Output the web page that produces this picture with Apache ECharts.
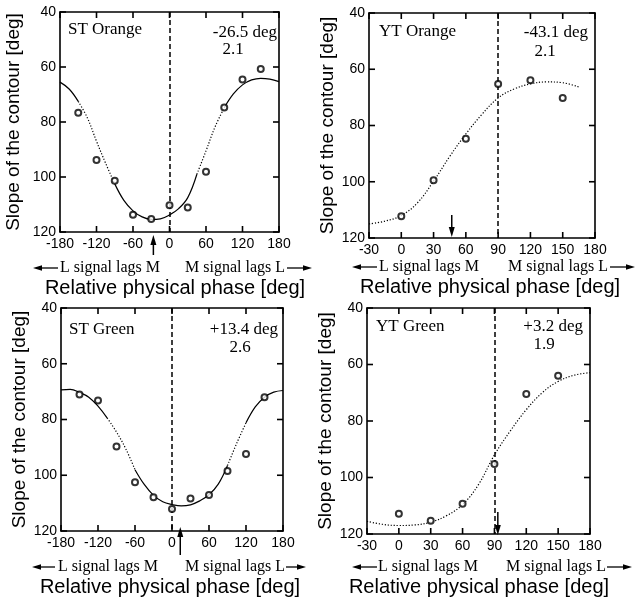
<!DOCTYPE html>
<html>
<head>
<meta charset="utf-8">
<script src="https://cdn.jsdelivr.net/npm/echarts@6/dist/echarts.min.js"></script>
<style>
html,body{margin:0;padding:0;background:#fff;}
#chart{width:639px;height:599px;}
</style>
</head>
<body>
<div id="chart"></div>
<script>
// ---------------- DATA ----------------
const stPhase = [-150, -120, -90, -60, -30, 0, 30, 60, 90, 120, 150];
const stOrangeSlope = [76.6, 93.8, 101.4, 113.7, 115.3, 110.3, 111.1, 98.1, 74.7, 64.5, 60.7];
const stGreenSlope = [71.0, 73.2, 89.7, 102.5, 107.9, 112.1, 108.3, 107.1, 98.5, 92.4, 72.0];

const ytPhase = [0, 30, 60, 90, 120, 150];
const ytOrangeSlope = [112.3, 99.5, 84.7, 65.2, 63.9, 70.2];
const ytGreenSlope = [112.8, 115.3, 109.3, 95.2, 70.4, 64.0];

const stFitPhase = [-180, -165, -150, -135, -120, -105, -90, -75, -60, -45, -30, -15, 0, 15, 30, 45, 60, 75, 90, 105, 120, 135, 150, 165, 180];
const stOrangeFit = [65.5, 68, 72.5, 78.5, 87, 95, 102.5, 108.5, 112.3, 114.5, 115.4, 115.2, 113.8, 111.5, 107.5, 99, 90.5, 81.7, 74.8, 69.8, 66.5, 64.7, 64.1, 64.4, 65.3];
const stGreenFit = [69.4, 69.2, 70.3, 72, 75.2, 79.5, 84.5, 90.5, 98, 103.3, 107.2, 109.5, 110.5, 111, 110.6, 109.2, 107, 103.2, 96.5, 88.5, 81.2, 75.5, 72, 70.2, 69.6];

const ytOrangeFitPhase = [-30, -15, 0, 15, 30, 45, 60, 75, 90, 105, 120, 135, 150, 165];
const ytOrangeFit = [115, 114, 112, 107.5, 99.8, 91, 83, 76, 70.2, 67, 65.2, 64.5, 64.8, 66.3];
const ytGreenFitPhase = [-30, -15, 0, 15, 30, 45, 60, 75, 90, 105, 120, 135, 150, 165, 180];
const ytGreenFit = [115.5, 116.6, 117, 116.8, 115.8, 113.5, 109.6, 102.5, 92, 83.5, 76, 70, 66, 63.8, 62.9];

const stTicks = [-180, -120, -60, 0, 60, 120, 180];
const ytTicks = [-30, 0, 30, 60, 90, 120, 150, 180];
const slopeTicks = [40, 60, 80, 100, 120];

const panelNames = ['ST Orange', 'YT Orange', 'ST Green', 'YT Green'];
const phaseLabels = ['-26.5 deg', '-43.1 deg', '+13.4 deg', '+3.2 deg'];
const paramLabels = ['2.1', '2.1', '2.6', '1.9'];
const arrowPhase = [-26.5, 46.9, 13.4, 93.2];
const dashedPhase = [0, 90, 0, 90];
const xRanges = [[-180, 180, 60], [-30, 180, 30], [-180, 180, 60], [-30, 180, 30]];
const yTitle = 'Slope of the contour [deg]';
const xTitle = 'Relative physical phase [deg]';
const lagLeft = 'L signal lags M';
const lagRight = 'M signal lags L';

// ---------------- LAYOUT / STYLE ----------------
const panels = [
  {grid: {left: 60, top: 12, width: 219, height: 220}, pts: [stPhase, stOrangeSlope], fit: [stFitPhase, stOrangeFit], ticks: stTicks,
   dotted: [[-150, -90], [45, 90]], nameGap: 37,
   lbl: {nx: 68, ny: 30, px: 277, py: 33, qx: 233, qy: 50},
   row: {y: 268, la: [33, 58], lt: 60, rt: 285, ra: [287, 312], tx: 175, ty: 288},
   arrow: {tip: 3, tail: 23}},
  {grid: {left: 369, top: 13, width: 226, height: 225}, pts: [ytPhase, ytOrangeSlope], fit: [ytOrangeFitPhase, ytOrangeFit], ticks: ytTicks,
   dotted: 'all', nameGap: 29,
   lbl: {nx: 379, ny: 32, px: 588, py: 33, qx: 545, qy: 52},
   row: {y: 267, la: [352, 377], lt: 379, rt: 608, ra: [610, 635], tx: 490, ty: 287},
   arrow: {tip: -1, tail: -23}},
  {grid: {left: 61, top: 308, width: 222, height: 223}, pts: [stPhase, stGreenSlope], fit: [stFitPhase, stGreenFit], ticks: stTicks,
   dotted: [[-105, -60], [90, 120]], nameGap: 28,
   lbl: {nx: 69, ny: 330, px: 278, py: 330, qx: 240, qy: 348},
   row: {y: 567, la: [32, 55], lt: 58, rt: 285, ra: [286, 306], tx: 170, ty: 587},
   arrow: {tip: -4, tail: 24}},
  {grid: {left: 367, top: 308, width: 223, height: 226}, pts: [ytPhase, ytGreenSlope], fit: [ytGreenFitPhase, ytGreenFit], ticks: ytTicks,
   dotted: 'all', nameGap: 29,
   lbl: {nx: 376, ny: 327, px: 583, py: 327, qx: 544, qy: 345},
   row: {y: 567, la: [352, 377], lt: 378, rt: 606, ra: [607, 632], tx: 479, ty: 587},
   arrow: {tip: 1, tail: -22}}
];

const SANS = 'Liberation Sans';
const SERIF = 'Liberation Serif';
const TICK_LEN = 6;
const grids = [], xAxes = [], yAxes = [], series = [], graphics = [];

function zip(xs, ys) { return xs.map((x, i) => [x, ys[i]]); }
function mkLine() { return {show: true, onZero: false, lineStyle: {color: '#000', width: 1.6}}; }

panels.forEach((p, i) => {
  grids.push(Object.assign({}, p.grid));
  const [xmin, xmax, xint] = xRanges[i];
  xAxes.push({gridIndex: i, type: 'value', position: 'bottom', min: xmin, max: xmax, interval: xint,
    axisLine: mkLine(), splitLine: {show: false}, axisTick: {show: false},
    axisLabel: {color: '#000', fontFamily: SANS, fontSize: 14, margin: 5}});
  xAxes.push({gridIndex: i, type: 'value', position: 'top', min: xmin, max: xmax, interval: xint,
    axisLine: mkLine(), splitLine: {show: false}, axisTick: {show: false}, axisLabel: {show: false}});
  yAxes.push({gridIndex: i, type: 'value', position: 'left', inverse: true, min: 40, max: 120, interval: 20,
    axisLine: mkLine(), splitLine: {show: false}, axisTick: {show: false},
    axisLabel: {color: '#000', fontFamily: SANS, fontSize: 14, margin: 4},
    name: yTitle, nameLocation: 'middle', nameGap: p.nameGap,
    nameTextStyle: {color: '#000', fontFamily: SANS, fontSize: 19}});
  yAxes.push({gridIndex: i, type: 'value', position: 'right', inverse: true, min: 40, max: 120, interval: 20,
    axisLine: mkLine(), splitLine: {show: false}, axisTick: {show: false}, axisLabel: {show: false}});

  const xi = 2 * i, yi = 2 * i;

  // inward tick marks on all four sides, positioned through the axis scales
  series.push({type: 'custom', xAxisIndex: xi, yAxisIndex: yi, clip: false, silent: true, z: 7,
    data: p.ticks.map(v => [v, 120]),
    renderItem: function (params, api) {
      const pt = api.coord([api.value(0), api.value(1)]);
      const top = api.coord([api.value(0), 40]);
      const st = {stroke: '#000', lineWidth: 1.6};
      return {type: 'group', children: [
        {type: 'line', shape: {x1: pt[0], y1: pt[1], x2: pt[0], y2: pt[1] - TICK_LEN}, style: st},
        {type: 'line', shape: {x1: top[0], y1: top[1], x2: top[0], y2: top[1] + TICK_LEN}, style: st}
      ]};
    }});
  series.push({type: 'custom', xAxisIndex: xi, yAxisIndex: yi, clip: false, silent: true, z: 7,
    data: slopeTicks.map(v => [xmin, v]),
    renderItem: function (params, api) {
      const pt = api.coord([api.value(0), api.value(1)]);
      const right = api.coord([xmax, api.value(1)]);
      const st = {stroke: '#000', lineWidth: 1.6};
      return {type: 'group', children: [
        {type: 'line', shape: {x1: pt[0], y1: pt[1], x2: pt[0] + TICK_LEN, y2: pt[1]}, style: st},
        {type: 'line', shape: {x1: right[0], y1: right[1], x2: right[0] - TICK_LEN, y2: right[1]}, style: st}
      ]};
    }});

  const fit = zip(p.fit[0], p.fit[1]);
  // fitted curve: split into solid and dotted segments
  const segs = [];
  if (p.dotted === 'all') {
    segs.push({data: fit, dotted: true});
  } else {
    let start = p.fit[0][0];
    const bounds = [];
    p.dotted.forEach(d => {
      bounds.push({a: start, b: d[0], dotted: false});
      bounds.push({a: d[0], b: d[1], dotted: true});
      start = d[1];
    });
    bounds.push({a: start, b: p.fit[0][p.fit[0].length - 1], dotted: false});
    bounds.forEach(b => segs.push({data: fit.filter(v => v[0] >= b.a && v[0] <= b.b), dotted: b.dotted}));
  }
  segs.forEach(s => {
    series.push({type: 'line', xAxisIndex: xi, yAxisIndex: yi, data: s.data, smooth: 0.4, showSymbol: false,
      silent: true, z: 3,
      lineStyle: {color: '#000', width: 1.2, type: s.dotted ? [1.2, 1.8] : 'solid'}});
  });
  // data points + dashed reference line
  series.push({type: 'scatter', xAxisIndex: xi, yAxisIndex: yi, data: zip(p.pts[0], p.pts[1]),
    symbol: 'emptyCircle', symbolSize: 6, z: 5, silent: true,
    itemStyle: {color: '#000', borderColor: '#000', borderWidth: 1.2},
    markLine: {silent: true, symbol: 'none', label: {show: false},
      lineStyle: {color: '#000', width: 1.5, type: [5, 3]},
      data: [{xAxis: dashedPhase[i]}]}});
  // phase arrow
  const ar = p.arrow;
  series.push({type: 'custom', xAxisIndex: xi, yAxisIndex: yi, clip: false, silent: true, z: 6,
    data: [[arrowPhase[i], 120]],
    renderItem: function (params, api) {
      const pt = api.coord([api.value(0), api.value(1)]);
      const tipY = pt[1] + ar.tip, tailY = pt[1] + ar.tail;
      const dir = tailY > tipY ? 1 : -1;
      return {type: 'group', children: [
        {type: 'line', shape: {x1: pt[0], y1: tailY, x2: pt[0], y2: tipY + dir * 7}, style: {stroke: '#000', lineWidth: 1.5}},
        {type: 'polygon', shape: {points: [[pt[0], tipY], [pt[0] - 3, tipY + dir * 10], [pt[0] + 3, tipY + dir * 10]]}, style: {fill: '#000'}}
      ]};
    }});

  // annotations
  const L = p.lbl;
  graphics.push({type: 'text', x: L.nx, y: L.ny, style: {text: panelNames[i], font: '17px ' + SERIF, fill: '#000', align: 'left', verticalAlign: 'middle'}});
  graphics.push({type: 'text', x: L.px, y: L.py, style: {text: phaseLabels[i], font: '17px ' + SERIF, fill: '#000', align: 'right', verticalAlign: 'middle'}});
  graphics.push({type: 'text', x: L.qx, y: L.qy, style: {text: paramLabels[i], font: '17px ' + SERIF, fill: '#000', align: 'center', verticalAlign: 'middle'}});
  const R = p.row;
  graphics.push({type: 'text', x: R.lt, y: R.y, style: {text: lagLeft, font: '16px ' + SERIF, fill: '#000', align: 'left', verticalAlign: 'middle'}});
  graphics.push({type: 'text', x: R.rt, y: R.y, style: {text: lagRight, font: '16px ' + SERIF, fill: '#000', align: 'right', verticalAlign: 'middle'}});
  graphics.push({type: 'text', x: R.tx, y: R.ty, style: {text: xTitle, font: '20px ' + SANS, fill: '#000', align: 'center', verticalAlign: 'middle'}});
  // left arrow
  graphics.push({type: 'line', shape: {x1: R.la[0] + 7, y1: R.y, x2: R.la[1], y2: R.y}, style: {stroke: '#000', lineWidth: 1.3}});
  graphics.push({type: 'polygon', shape: {points: [[R.la[0], R.y], [R.la[0] + 9, R.y - 2.8], [R.la[0] + 9, R.y + 2.8]]}, style: {fill: '#000'}});
  // right arrow
  graphics.push({type: 'line', shape: {x1: R.ra[0], y1: R.y, x2: R.ra[1] - 7, y2: R.y}, style: {stroke: '#000', lineWidth: 1.3}});
  graphics.push({type: 'polygon', shape: {points: [[R.ra[1], R.y], [R.ra[1] - 9, R.y - 2.8], [R.ra[1] - 9, R.y + 2.8]]}, style: {fill: '#000'}});
});

const chart = echarts.init(document.getElementById('chart'), null, {renderer: 'canvas'});
chart.setOption({
  animation: false,
  backgroundColor: '#fff',
  grid: grids,
  xAxis: xAxes,
  yAxis: yAxes,
  series: series,
  graphic: graphics
});
</script>
</body>
</html>
